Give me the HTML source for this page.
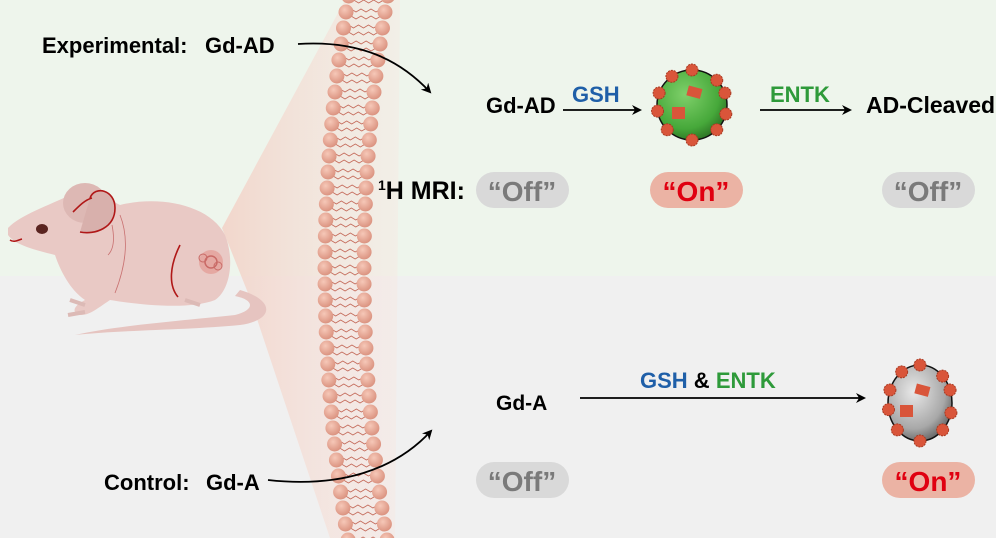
<!DOCTYPE html>
<html><head><meta charset="utf-8"><style>
html,body{margin:0;padding:0;}
body{width:996px;height:538px;overflow:hidden;font-family:"Liberation Sans",sans-serif;}
svg text{font-family:"Liberation Sans",sans-serif;font-weight:bold;}
</style></head><body>
<svg id="s" width="996" height="538" viewBox="0 0 996 538" xmlns="http://www.w3.org/2000/svg">
<defs>
<linearGradient id="cone" x1="0" y1="0" x2="1" y2="0">
<stop offset="0" stop-color="#f2d3c8" stop-opacity="0.9"/>
<stop offset="1" stop-color="#f8e6e0" stop-opacity="0.4"/>
</linearGradient>
<radialGradient id="gr" cx="0.4" cy="0.35" r="0.7">
<stop offset="0" stop-color="#7fd06a"/><stop offset="0.7" stop-color="#46a83a"/><stop offset="1" stop-color="#2a6e22"/>
</radialGradient>
<radialGradient id="gy" cx="0.4" cy="0.35" r="0.7">
<stop offset="0" stop-color="#e8e8e8"/><stop offset="0.7" stop-color="#a8a8a8"/><stop offset="1" stop-color="#606060"/>
</radialGradient>
<radialGradient id="bead" cx="0.4" cy="0.35" r="0.7">
<stop offset="0" stop-color="#f6c8b8"/><stop offset="1" stop-color="#d98f7c"/>
</radialGradient>
<marker id="ah" markerWidth="10" markerHeight="10" refX="8" refY="5" orient="auto" markerUnits="userSpaceOnUse">
<path d="M0,0 L10,5 L0,10 L3,5 Z" fill="#000"/></marker>
</defs>
<rect x="0" y="0" width="996" height="276" fill="#eef5ec"/>
<rect x="0" y="276" width="996" height="262" fill="#f0f0f0"/>
<polygon points="222,228 345,0 400,0 395,538 330,538 250,298" fill="url(#cone)"/>
<g id="mem"></g>
<g>
<path d="M240,290 C275,300 275,320 240,325 C190,330 120,330 75,335 C120,325 190,320 235,315 C255,310 255,300 235,296 Z" fill="#e6c4c0"/>
<path d="M8,228 C20,215 50,205 70,195 C90,185 110,200 120,205 C160,195 210,205 225,235 C235,260 230,290 215,300 C190,310 140,305 110,300 C95,310 90,315 80,315 C70,312 75,305 85,300 C70,290 60,270 55,255 C35,250 15,245 8,235 Z" fill="#e9c9c5"/>
<ellipse cx="85" cy="203" rx="22" ry="20" fill="#ddb8b4"/>
<path d="M90,198 C95,185 115,190 115,208 C115,228 95,235 80,232" fill="#d8b0ac" stroke="#b01818" stroke-width="1.6"/>
<path d="M73,212 C80,205 85,200 92,198" fill="none" stroke="#b01818" stroke-width="1.6"/>
<ellipse cx="42" cy="229" rx="6" ry="5" fill="#5a2420"/>
<path d="M10,240 C14,243 18,240 22,239" fill="none" stroke="#b01818" stroke-width="1.5"/>
<path d="M180,245 C170,265 168,285 178,297" fill="none" stroke="#b01818" stroke-width="1.6"/>
<path d="M120,215 C128,235 128,260 115,293" fill="none" stroke="#c87070" stroke-width="0.8"/>
<path d="M112,225 C115,240 113,250 108,255" fill="none" stroke="#c87070" stroke-width="0.8"/>
<circle cx="211" cy="262" r="12" fill="#e5a8a2"/>
<circle cx="211" cy="262" r="6" fill="none" stroke="#c96a66" stroke-width="1.5"/>
<circle cx="203" cy="258" r="4" fill="none" stroke="#c96a66" stroke-width="1"/>
<circle cx="218" cy="266" r="4" fill="none" stroke="#c96a66" stroke-width="1"/>
<path d="M70,300 L85,305 M68,315 L85,312 M185,300 L200,305" stroke="#dcbab6" stroke-width="4"/>
</g>
<path d="M298,44 C360,40 400,60 430,92" fill="none" stroke="#000" stroke-width="1.8" marker-end="url(#ah)"/>
<path d="M268,480 C340,488 395,470 431,431" fill="none" stroke="#000" stroke-width="1.8" marker-end="url(#ah)"/>
<line x1="563" y1="110" x2="640" y2="110" stroke="#000" stroke-width="1.8" marker-end="url(#ah)"/>
<line x1="760" y1="110" x2="850" y2="110" stroke="#000" stroke-width="1.8" marker-end="url(#ah)"/>
<line x1="580" y1="398" x2="864" y2="398" stroke="#000" stroke-width="1.8" marker-end="url(#ah)"/>
<text x="42" y="53" font-size="22">Experimental:</text>
<text x="205" y="53" font-size="22">Gd-AD</text>
<text x="104" y="490" font-size="22">Control:</text>
<text x="206" y="490" font-size="22">Gd-A</text>
<text x="486" y="113" font-size="22">Gd-AD</text>
<text x="572" y="102" font-size="22" fill="#1f5fa8">GSH</text>
<text x="770" y="102" font-size="22" fill="#2e9a3a">ENTK</text>
<text x="866" y="113" font-size="23">AD-Cleaved</text>
<text x="378" y="199" font-size="25"><tspan font-size="14" dy="-9">1</tspan><tspan dy="9">H MRI:</tspan></text>
<text x="496" y="410" font-size="21">Gd-A</text>
<text x="640" y="388" font-size="22"><tspan fill="#1f5fa8">GSH</tspan> &amp; <tspan fill="#2e9a3a">ENTK</tspan></text>
<g font-size="28">
<rect x="476" y="172" width="93" height="36" rx="18" fill="#d9d9d9"/><text x="522" y="201" text-anchor="middle" fill="#7a7a7a">“Off”</text>
<rect x="650" y="172" width="93" height="36" rx="18" fill="#ebb3a4"/><text x="696" y="201" text-anchor="middle" fill="#e00010">“On”</text>
<rect x="882" y="172" width="93" height="36" rx="18" fill="#d9d9d9"/><text x="928" y="201" text-anchor="middle" fill="#7a7a7a">“Off”</text>
<rect x="476" y="462" width="93" height="36" rx="18" fill="#d9d9d9"/><text x="522" y="491" text-anchor="middle" fill="#7a7a7a">“Off”</text>
<rect x="882" y="462" width="93" height="36" rx="18" fill="#ebb3a4"/><text x="928" y="491" text-anchor="middle" fill="#e00010">“On”</text>
</g>
<g id="p1"><ellipse cx="692" cy="105" rx="35" ry="35" fill="url(#gr)" stroke="#111" stroke-width="1.5"/></g>
<g id="p2"><ellipse cx="920" cy="403" rx="32" ry="38" fill="url(#gy)" stroke="#111" stroke-width="1.5"/></g>
</svg>
<script>
var NS="http://www.w3.org/2000/svg";
function el(n,a,p){var e=document.createElementNS(NS,n);for(var k in a)e.setAttribute(k,a[k]);p.appendChild(e);return e;}
var mem=document.getElementById("mem");
function lx(y){var t=y/538;return 348-91.7*t+91.4*t*t;}
for(var y=-4;y<548;y+=16){
 var a=lx(y),b=a+39;
 var d="M"+(a+5)+","+(y-3);for(var i=1;i<=6;i++){d+=" L"+(a+5+i*5)+","+(y-3+(i%2?3:0));}
 el("path",{d:d,fill:"none",stroke:"#c46a5a","stroke-width":"0.8"},mem);
 var d2="M"+(a+5)+","+(y+4);for(var i=1;i<=6;i++){d2+=" L"+(a+5+i*5)+","+(y+4+(i%2?3:0));}
 el("path",{d:d2,fill:"none",stroke:"#c46a5a","stroke-width":"0.8"},mem);
 el("circle",{cx:a,cy:y,r:7.5,fill:"url(#bead)"},mem);
 el("circle",{cx:b,cy:y,r:7.5,fill:"url(#bead)"},mem);
}
function spikes(g,cx,cy,rx,ry){
 var ang=[-90,-45,-20,15,45,90,135,170,200,235];
 ang.forEach(function(d){var r=d*Math.PI/180;var x=cx+rx*Math.cos(r),y=cy+ry*Math.sin(r);
  el("circle",{cx:x,cy:y,r:6,fill:"#d9553a",stroke:"#a83a22","stroke-width":"1","stroke-dasharray":"2 1"},g);});
 el("rect",{x:cx-8,y:cy-18,width:14,height:10,fill:"#d9553a",transform:"rotate(15 "+cx+" "+cy+")"},g);
 el("rect",{x:cx-20,y:cy+2,width:13,height:12,fill:"#d9553a"},g);
}
spikes(document.getElementById("p1"),692,105,35,35);
spikes(document.getElementById("p2"),920,403,32,38);
</script>
</body></html>
